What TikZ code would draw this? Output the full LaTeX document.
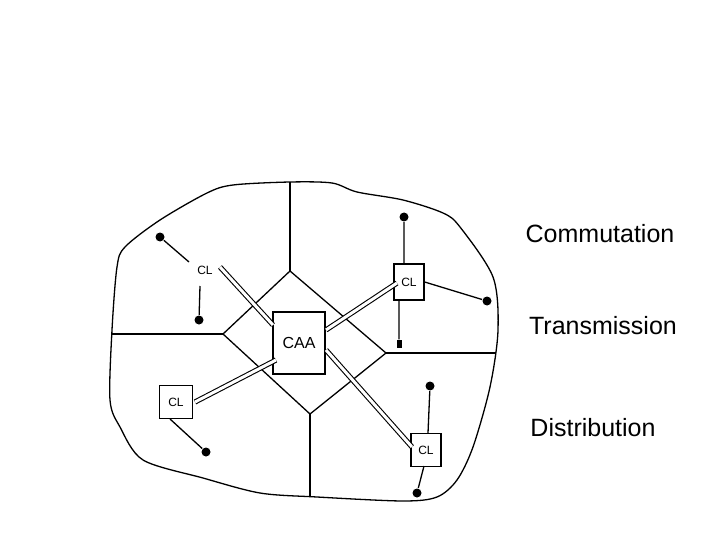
\documentclass[tikz,border=0pt]{standalone}
\usepackage{fontspec}
\setmainfont{Liberation Sans}
\begin{document}
\begin{tikzpicture}[x=1pt,y=-1pt,line width=1.3pt,
  box/.style={draw,minimum width=0,inner sep=0,font=\fontsize{12}{14}\selectfont},
  dot/.style={circle,fill,inner sep=0,minimum size=9pt},
  dbl/.style={double,double distance=3pt,line width=1.1pt},
  big/.style={font=\fontsize{25}{28}\selectfont}]
\useasboundingbox (0,0) rectangle (720,540);
\draw plot[smooth cycle,tension=0.5] coordinates {(125,247) (160,220) (207,193) (233,185) (290,182) (332,183) (357,192) (403,200) (443,213) (460,227) (493,277) (498,330) (490,387) (473,447) (457,480) (437,497) (403,501) (317,497) (260,493) (203,478) (143,460) (120,427) (110,400) (112,330) (117,267)};
\coordinate (dt) at (290,271); \coordinate (dl) at (223,334);
\coordinate (dr) at (386,353); \coordinate (db) at (310,414);
\draw (dt)--(dr)--(db)--(dl)--cycle;
\coordinate (rt) at (290,182); \coordinate (rl) at (111,334);
\coordinate (rr) at (496,353); \coordinate (rb) at (310,497);
\draw (dt)--(rt) (dl)--(rl) (dr)--(rr) (db)--(rb);
\node[box,fill=white,minimum width=52pt,minimum height=62pt,font=\fontsize{16}{18}\selectfont] (caa) at (299,343) {CAA};
\node[font=\fontsize{12}{14}\selectfont] (cl1) at (205,270) {CL};
\node[box,minimum width=30pt,minimum height=36pt] (cl2) at (409,282) {CL};
\node[box,minimum width=33pt,minimum height=33pt] (cl3) at (176,402) {CL};
\node[box,minimum width=30pt,minimum height=33pt] (cl4) at (426,450) {CL};
\node[dot] (d1) at (160,237) {}; \coordinate (c1a) at (189,262);
\coordinate (c1b) at (200,286); \node[dot] (d2) at (199,320) {};
\draw (d1)--(c1a) (c1b)--(d2);
\node[dot] (d3) at (404,217) {}; \node[dot] (d4) at (487,301) {};
\node[rectangle,fill,inner sep=0,minimum width=5pt,minimum height=8pt] (d5) at (399,344) {};
\draw (d3)--(404,264) (cl2.east)--(d4) (399,300)--(d5);
\node[dot] (d6) at (206,452) {}; \draw (170,419)--(d6);
\node[dot] (d7) at (430,386) {}; \node[dot] (d8) at (417,493) {};
\draw (d7)--(428,433) (424,466)--(d8);
\coordinate (e1) at (220,267); \coordinate (e2) at (273,325);
\coordinate (e3) at (397,283); \coordinate (e4) at (326,330);
\coordinate (e5) at (195,402); \coordinate (e6) at (276,360);
\coordinate (e7) at (326,350); \coordinate (e8) at (412,447);
\draw[dbl] (e1)--(e2); \draw[dbl] (e3)--(e4); \draw[dbl] (e5)--(e6); \draw[dbl] (e7)--(e8);
\node[big] (t1) at (600,234) {Commutation};
\node[big] (t2) at (603,326) {Transmission};
\node[big] (t3) at (593,428) {Distribution};
\end{tikzpicture}
\end{document}
